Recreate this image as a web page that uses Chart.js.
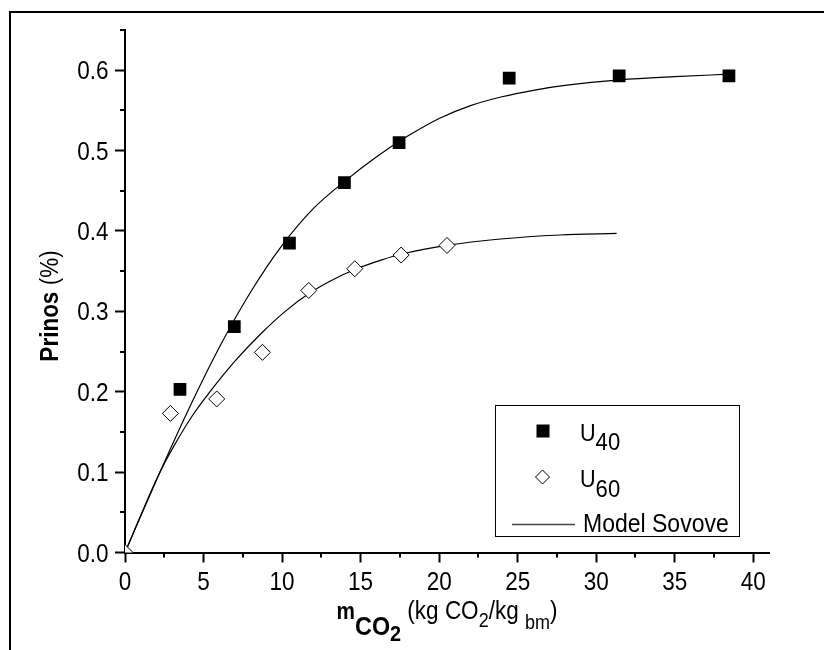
<!DOCTYPE html>
<html><head><meta charset="utf-8">
<script src="https://cdn.jsdelivr.net/npm/chart.js@4.4.1/dist/chart.umd.min.js"></script>
<style>html,body{margin:0;padding:0;background:#fff;}</style>
</head><body>
<canvas id="c" width="824" height="650"></canvas>
<script>
// ---- data ----
const xTicks = [0, 5, 10, 15, 20, 25, 30, 35, 40];
const yTicks = [0.0, 0.1, 0.2, 0.3, 0.4, 0.5, 0.6];

const u40X = [3.5, 6.96, 10.47, 13.97, 17.45, 24.46, 31.46, 38.45];
const u40Y = [0.203, 0.281, 0.385, 0.460, 0.510, 0.590, 0.593, 0.593];

const u60X = [0, 2.89, 5.84, 8.75, 11.70, 14.63, 17.58, 20.50];
const u60Y = [0, 0.173, 0.191, 0.249, 0.326, 0.353, 0.370, 0.382];

const model40X = [0, 2, 4, 6, 8, 10, 12, 14, 16, 18, 20, 22, 24, 26, 28, 31.5, 35, 38.45];
const model40Y = [0, 0.090, 0.176, 0.255, 0.324, 0.382, 0.428, 0.462, 0.492, 0.518, 0.540, 0.556, 0.567, 0.575, 0.581, 0.588, 0.592, 0.595];

const model60X = [0, 2.1, 3.1, 4.35, 5.41, 7.0, 8.75, 10.2, 11.78, 13.2, 14.63, 16.35, 17.58, 20.49, 23.9, 27.7, 31.3];
const model60Y = [0, 0.095, 0.132, 0.172, 0.200, 0.238, 0.274, 0.300, 0.323, 0.339, 0.352, 0.364, 0.371, 0.382, 0.390, 0.395, 0.397];

const xTitle = [['m', 'b'], ['CO', 'bs'], ['2', 'bss'], [' (kg CO', 'n'], ['2', 's'], ['/kg ', 'n'], ['bm', 'sb'], [')', 'n']];
const yTitle = [['Prinos', 'b'], [' (%)', 'n']];
const legendLabels = [['U', '40'], ['U', '60'], ['Model Sovove', '']];
// ---------------------------------------

const FONT = '"Liberation Sans", Arial, sans-serif';
const SX = 0.9; // horizontal condensing of the narrow reference face
const pts = (xs, ys) => xs.map((v, i) => ({x: v, y: ys[i]}));

function txt(ctx, s, x, y, font, align, sx) {
  ctx.save();
  ctx.font = font;
  const w = ctx.measureText(s).width * sx;
  const left = align === 'center' ? x - w / 2 : align === 'right' ? x - w : x;
  ctx.translate(left, y);
  ctx.scale(sx, 1);
  ctx.textAlign = 'left';
  ctx.textBaseline = 'alphabetic';
  ctx.fillStyle = '#000';
  ctx.fillText(s, 0, 0);
  ctx.restore();
  return w;
}
function measure(ctx, s, font, sx) { ctx.save(); ctx.font = font; const w = ctx.measureText(s).width * sx; ctx.restore(); return w; }

const decor = {
  id: 'decor',
  afterDraw(chart) {
    const {ctx, scales: {x, y}, chartArea: ca} = chart;
    ctx.save();
    // outer frame
    ctx.strokeStyle = '#000';
    ctx.lineWidth = 2;
    ctx.beginPath();
    ctx.moveTo(10, 652); ctx.lineTo(10, 12); ctx.lineTo(830, 12);
    ctx.stroke();

    // minor ticks
    const xt = x.ticks.map(t => t.value);
    for (let i = 0; i < xt.length - 1; i++) {
      const px = Math.round(x.getPixelForValue((xt[i] + xt[i + 1]) / 2));
      ctx.beginPath(); ctx.moveTo(px, ca.bottom); ctx.lineTo(px, ca.bottom + 5); ctx.stroke();
    }
    const yt = y.ticks.map(t => t.value);
    const ym = [];
    for (let i = 0; i < yt.length - 1; i++) ym.push((yt[i] + yt[i + 1]) / 2);
    const step = yt[1] - yt[0];
    if (yt[yt.length - 1] + step / 2 <= y.max + 1e-9) ym.push(yt[yt.length - 1] + step / 2);
    ym.forEach(v => {
      const py = Math.round(y.getPixelForValue(v));
      ctx.beginPath(); ctx.moveTo(ca.left - 5, py); ctx.lineTo(ca.left, py); ctx.stroke();
    });

    // tick labels (from the scales' own ticks)
    const tf = '25px ' + FONT;
    x.ticks.forEach(t => txt(ctx, String(t.value), x.getPixelForValue(t.value), 590, tf, 'center', SX));
    y.ticks.forEach(t => txt(ctx, Number(t.value).toFixed(1), 108.5, y.getPixelForValue(t.value) + 9, tf, 'right', SX));

    // legend box
    ctx.lineWidth = 1;
    ctx.strokeStyle = '#000';
    ctx.strokeRect(495.5, 405.5, 244, 131);
    ctx.fillStyle = '#000';
    ctx.fillRect(536.5, 424.5, 13, 13);
    ctx.beginPath();
    ctx.moveTo(535.5, 477); ctx.lineTo(542.5, 470); ctx.lineTo(549.5, 477); ctx.lineTo(542.5, 484); ctx.closePath();
    ctx.fillStyle = '#fff'; ctx.fill(); ctx.strokeStyle = '#000'; ctx.lineWidth = 1; ctx.stroke();
    ctx.strokeStyle = '#444'; ctx.lineWidth = 1.5;
    ctx.beginPath(); ctx.moveTo(512, 524.5); ctx.lineTo(575, 524.5); ctx.stroke();

    let w = txt(ctx, legendLabels[0][0], 580, 441, '24px ' + FONT, 'left', 0.9);
    txt(ctx, legendLabels[0][1], 580 + w, 450, '24px ' + FONT, 'left', 0.92);
    w = txt(ctx, legendLabels[1][0], 580, 487, '24px ' + FONT, 'left', 0.9);
    txt(ctx, legendLabels[1][1], 580 + w, 497, '24px ' + FONT, 'left', 0.92);
    txt(ctx, legendLabels[2][0], 583, 532, '25px ' + FONT, 'left', 0.92);

    // x title
    const sty = {
      b:   {f: 'bold 23px', dy: 0},
      bs:  {f: 'bold 26px', dy: 16},
      bss: {f: 'bold 22px', dy: 22},
      n:   {f: '25px', dy: 0},
      s:   {f: '20px', dy: 8},
      sb:  {f: '20px', dy: 10},
    };
    const parts = xTitle.map(([t, k]) => ({t, f: sty[k].f + ' ' + FONT, dy: sty[k].dy}));
    let total = 0;
    parts.forEach(p => { p.w = measure(ctx, p.t, p.f, SX); total += p.w; });
    let cx = (ca.left + ca.right) / 2 - total / 2;
    const base = 619;
    parts.forEach(p => { txt(ctx, p.t, cx, base + p.dy, p.f, 'left', SX); cx += p.w; });

    // y title (rotated)
    ctx.save();
    ctx.translate(58, 306);
    ctx.rotate(-Math.PI / 2);
    const yf = [ 'bold 25px ' + FONT, '25px ' + FONT ];
    const w1 = measure(ctx, yTitle[0][0], yf[0], SX);
    const w2 = measure(ctx, yTitle[1][0], yf[1], SX);
    let sx = -(w1 + w2) / 2;
    txt(ctx, yTitle[0][0], sx, 0, yf[0], 'left', SX);
    txt(ctx, yTitle[1][0], sx + w1, 0, yf[1], 'left', SX);
    ctx.restore();

    ctx.restore();
  }
};

new Chart(document.getElementById('c').getContext('2d'), {
  type: 'scatter',
  data: {
    datasets: [
      {label: 'U40', data: pts(u40X, u40Y), pointStyle: 'rect', pointRadius: 9, backgroundColor: '#000', borderColor: '#000', borderWidth: 0, showLine: false, order: 0},
      {label: 'U60', data: pts(u60X, u60Y), pointStyle: 'rectRot', pointRadius: 8, backgroundColor: '#fff', borderColor: '#000', borderWidth: 1, showLine: false, order: 0, clip: 0},
      {label: 'Model Sovove', data: pts(model40X, model40Y), showLine: true, pointRadius: 0, borderColor: '#000', borderWidth: 1.2, cubicInterpolationMode: 'monotone', order: 1},
      {label: 'Model Sovove (U60)', data: pts(model60X, model60Y), showLine: true, pointRadius: 0, borderColor: '#000', borderWidth: 1.2, cubicInterpolationMode: 'monotone', order: 1}
    ]
  },
  options: {
    responsive: false,
    animation: false,
    events: [],
    layout: {padding: {top: 30, right: 55, left: 0, bottom: 0}},
    plugins: {legend: {display: false}, tooltip: {enabled: false}},
    scales: {
      x: {
        type: 'linear', min: 0, max: 41,
        afterBuildTicks: s => { s.ticks = xTicks.map(v => ({value: v})); },
        afterFit: s => { s.height = 97.5; },
        grid: {drawOnChartArea: false, drawTicks: true, tickLength: 10, tickColor: '#000', tickWidth: 2},
        border: {display: true, color: '#000', width: 2},
        ticks: {display: false}
      },
      y: {
        type: 'linear', min: 0, max: 0.65,
        afterBuildTicks: s => { s.ticks = yTicks.map(v => ({value: v})); },
        afterFit: s => { s.width = 125; },
        grid: {drawOnChartArea: false, drawTicks: true, tickLength: 10, tickColor: '#000', tickWidth: 2},
        border: {display: true, color: '#000', width: 2},
        ticks: {display: false}
      }
    }
  },
  plugins: [decor]
});
</script>
</body></html>
